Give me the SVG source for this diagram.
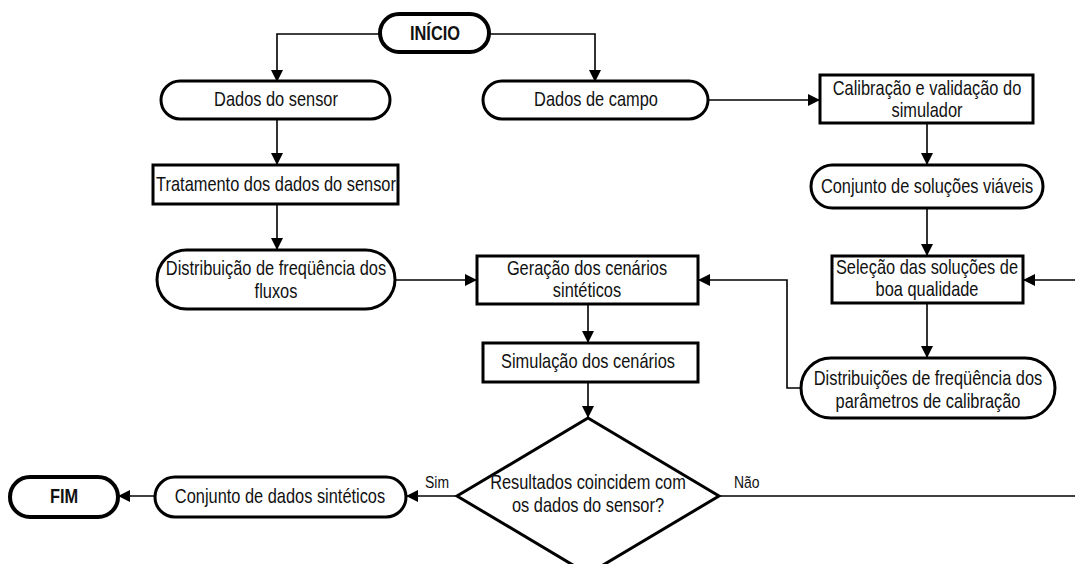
<svg xmlns="http://www.w3.org/2000/svg" width="1075" height="564" viewBox="0 0 1075 564">
<style>
.box{fill:#fff;stroke:#000;stroke-width:3}
.term{fill:#fff;stroke:#000;stroke-width:4}
.t{font-family:"Liberation Sans",Arial,sans-serif;font-size:20px;text-anchor:middle;fill:#111}
.b{font-weight:bold}
.lbl{font-family:"Liberation Sans",Arial,sans-serif;font-size:17px;fill:#111}
.c{fill:none;stroke:#000;stroke-width:1.6}
.a{marker-end:url(#ah)}
</style>
<defs>
<marker id="ah" markerUnits="userSpaceOnUse" markerWidth="12" markerHeight="12" viewBox="0 0 12 12" refX="11" refY="6" orient="auto">
<path d="M0,0 L12,6 L0,12 Z" fill="#000"/>
</marker>
</defs>
<rect width="1075" height="564" fill="#fff"/>
<g id="connectors">
<path class="c a" d="M380,34 H277 V81"/>
<path class="c a" d="M489,34 H595 V81"/>
<path class="c a" d="M277,119 V164"/>
<path class="c a" d="M277,204 V249"/>
<path class="c a" d="M708,100 H819"/>
<path class="c a" d="M927,123 V164"/>
<path class="c a" d="M927,208 V255"/>
<path class="c a" d="M927,303 V357"/>
<path class="c a" d="M395,280 H476"/>
<path class="c a" d="M801,388 H787 V280 H699"/>
<path class="c a" d="M1075,280 H1024"/>
<path class="c a" d="M588,304 V342"/>
<path class="c a" d="M588,382 V417"/>
<path class="c" d="M719,496 H1075"/>
<path class="c a" d="M457,496 H407"/>
<path class="c a" d="M155,496 H119"/>
</g>
<g id="inicio"><rect class="term" x="380" y="14" width="109" height="38" rx="19"/><text class="t b" transform="translate(435,0) scale(0.82,1)" y="40">INÍCIO</text></g>
<g id="dados-sensor"><rect class="box" x="161" y="81" width="229" height="38" rx="19"/><text class="t" transform="translate(276,0) scale(0.82,1)" y="106">Dados do sensor</text></g>
<g id="dados-campo"><rect class="box" x="483" y="81" width="225" height="38" rx="19"/><text class="t" transform="translate(596,0) scale(0.82,1)" y="106">Dados de campo</text></g>
<g id="calibracao"><rect class="box" x="820" y="75" width="213" height="48"/><text class="t" transform="translate(927,0) scale(0.82,1)" y="95">Calibração e validação do</text><text class="t" transform="translate(927,0) scale(0.82,1)" y="117">simulador</text></g>
<g id="tratamento"><rect class="box" x="153" y="165" width="245" height="39"/><text class="t" transform="translate(276,0) scale(0.82,1)" y="191">Tratamento dos dados do sensor</text></g>
<g id="conjunto-viaveis"><rect class="box" x="811" y="165" width="232" height="43" rx="21.5"/><text class="t" transform="translate(927,0) scale(0.82,1)" y="193">Conjunto de soluções viáveis</text></g>
<g id="distribuicao-fluxos"><rect class="box" x="157" y="250" width="238" height="59" rx="29.5"/><text class="t" transform="translate(276,0) scale(0.82,1)" y="275">Distribuição de freqüência dos</text><text class="t" transform="translate(276,0) scale(0.82,1)" y="298">fluxos</text></g>
<g id="geracao"><rect class="box" x="477" y="256" width="221" height="48"/><text class="t" transform="translate(587,0) scale(0.82,1)" y="275">Geração dos cenários</text><text class="t" transform="translate(587,0) scale(0.82,1)" y="297">sintéticos</text></g>
<g id="selecao"><rect class="box" x="832" y="256" width="191" height="47"/><text class="t" transform="translate(927,0) scale(0.82,1)" y="274">Seleção das soluções de</text><text class="t" transform="translate(927,0) scale(0.82,1)" y="296">boa qualidade</text></g>
<g id="simulacao"><rect class="box" x="483" y="343" width="215" height="39"/><text class="t" transform="translate(588,0) scale(0.82,1)" y="368">Simulação dos cenários</text></g>
<g id="distribuicoes-parametros"><rect class="box" x="801" y="358" width="254" height="60" rx="30"/><text class="t" transform="translate(928,0) scale(0.82,1)" y="385">Distribuições de freqüência dos</text><text class="t" transform="translate(928,0) scale(0.82,1)" y="408">parâmetros de calibração</text></g>
<g id="decisao"><path class="box" d="M588,418 L719,496 L588,574 L457,496 Z"/><text class="t" transform="translate(588,0) scale(0.82,1)" y="489">Resultados coincidem com</text><text class="t" transform="translate(588,0) scale(0.82,1)" y="512">os dados do sensor?</text></g>
<g id="conjunto-sinteticos"><rect class="box" x="155" y="477" width="251" height="40" rx="20"/><text class="t" transform="translate(280,0) scale(0.82,1)" y="503">Conjunto de dados sintéticos</text></g>
<g id="fim"><rect class="term" x="10" y="477" width="108" height="40" rx="20"/><text class="t b" transform="translate(64,0) scale(0.82,1)" y="503">FIM</text></g>
<text class="lbl" transform="translate(425,0) scale(0.82,1)" y="488">Sim</text>
<text class="lbl" transform="translate(734,0) scale(0.82,1)" y="488">Não</text>
</svg>
